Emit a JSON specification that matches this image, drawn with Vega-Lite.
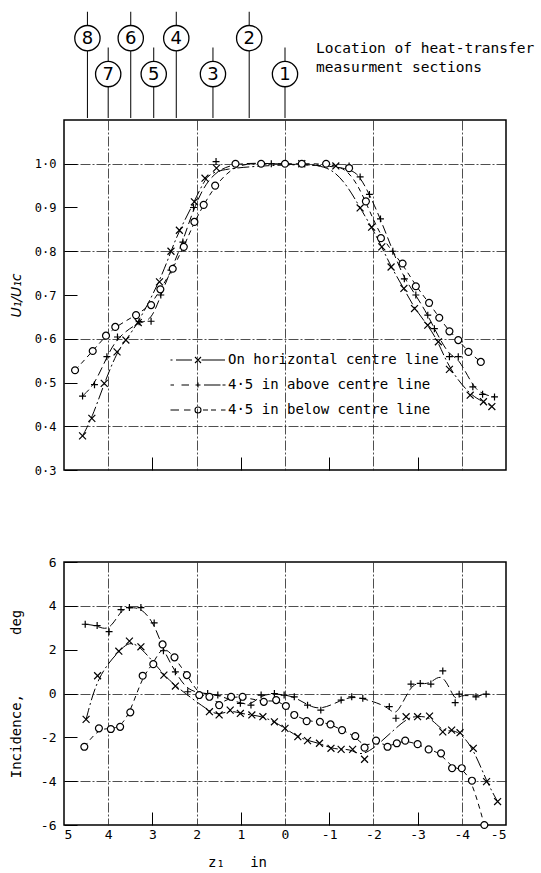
{
  "$schema": "https://vega.github.io/schema/vega-lite/v6.json",
  "background": "white",
  "padding": {"left": 8, "top": 0, "right": 0, "bottom": 0},
  "config": {
    "font": "DejaVu Sans Mono",
    "view": {"stroke": "black", "strokeWidth": 1.5},
    "axis": {
      "domain": false,
      "labelFont": "DejaVu Sans Mono",
      "labelColor": "black",
      "titleFont": "DejaVu Sans Mono",
      "titleColor": "black",
      "titleFontWeight": "normal",
      "tickColor": "black",
      "gridColor": "#222222",
      "gridWidth": 0.8,
      "gridDash": [10, 2, 2, 2]
    }
  },
  "datasets": {
    "sections": [
      {"section": "8", "z": 4.47, "tier": 2},
      {"section": "7", "z": 4.0, "tier": 1},
      {"section": "6", "z": 3.49, "tier": 2},
      {"section": "5", "z": 2.97, "tier": 1},
      {"section": "4", "z": 2.46, "tier": 2},
      {"section": "3", "z": 1.63, "tier": 1},
      {"section": "2", "z": 0.81, "tier": 2},
      {"section": "1", "z": 0.0, "tier": 1}
    ],
    "profiles": [
      {"series": "On horizontal centre line", "z": 4.58, "u": 0.378},
      {"series": "On horizontal centre line", "z": 4.37, "u": 0.418},
      {"series": "On horizontal centre line", "z": 4.09, "u": 0.498},
      {"series": "On horizontal centre line", "z": 3.8, "u": 0.57},
      {"series": "On horizontal centre line", "z": 3.6, "u": 0.597},
      {"series": "On horizontal centre line", "z": 3.32, "u": 0.637},
      {"series": "On horizontal centre line", "z": 2.84, "u": 0.73},
      {"series": "On horizontal centre line", "z": 2.58, "u": 0.8},
      {"series": "On horizontal centre line", "z": 2.39, "u": 0.848},
      {"series": "On horizontal centre line", "z": 2.05, "u": 0.913},
      {"series": "On horizontal centre line", "z": 1.81, "u": 0.967},
      {"series": "On horizontal centre line", "z": 1.55, "u": 0.99},
      {"series": "On horizontal centre line", "z": -0.38, "u": 1.0},
      {"series": "On horizontal centre line", "z": -1.15, "u": 0.995},
      {"series": "On horizontal centre line", "z": -1.7, "u": 0.899},
      {"series": "On horizontal centre line", "z": -1.96, "u": 0.855},
      {"series": "On horizontal centre line", "z": -2.19, "u": 0.81},
      {"series": "On horizontal centre line", "z": -2.4, "u": 0.764},
      {"series": "On horizontal centre line", "z": -2.69, "u": 0.715},
      {"series": "On horizontal centre line", "z": -2.93, "u": 0.669},
      {"series": "On horizontal centre line", "z": -3.23, "u": 0.631},
      {"series": "On horizontal centre line", "z": -3.47, "u": 0.593},
      {"series": "On horizontal centre line", "z": -3.72, "u": 0.53},
      {"series": "On horizontal centre line", "z": -4.19, "u": 0.471},
      {"series": "On horizontal centre line", "z": -4.49, "u": 0.456},
      {"series": "On horizontal centre line", "z": -4.68, "u": 0.445},
      {"series": "4·5 in above centre line", "z": 4.58, "u": 0.469},
      {"series": "4·5 in above centre line", "z": 4.31, "u": 0.495},
      {"series": "4·5 in above centre line", "z": 4.03, "u": 0.559},
      {"series": "4·5 in above centre line", "z": 3.79, "u": 0.604},
      {"series": "4·5 in above centre line", "z": 3.3, "u": 0.639},
      {"series": "4·5 in above centre line", "z": 3.03, "u": 0.64},
      {"series": "4·5 in above centre line", "z": 2.81, "u": 0.7},
      {"series": "4·5 in above centre line", "z": 2.58, "u": 0.757},
      {"series": "4·5 in above centre line", "z": 2.31, "u": 0.821},
      {"series": "4·5 in above centre line", "z": 2.07, "u": 0.9},
      {"series": "4·5 in above centre line", "z": 1.56, "u": 1.005},
      {"series": "4·5 in above centre line", "z": 0.31, "u": 1.0},
      {"series": "4·5 in above centre line", "z": -1.45, "u": 0.995},
      {"series": "4·5 in above centre line", "z": -1.7, "u": 0.97},
      {"series": "4·5 in above centre line", "z": -1.91, "u": 0.93},
      {"series": "4·5 in above centre line", "z": -2.16, "u": 0.874},
      {"series": "4·5 in above centre line", "z": -2.44, "u": 0.8},
      {"series": "4·5 in above centre line", "z": -2.7, "u": 0.737},
      {"series": "4·5 in above centre line", "z": -2.96, "u": 0.7},
      {"series": "4·5 in above centre line", "z": -3.23, "u": 0.654},
      {"series": "4·5 in above centre line", "z": -3.38, "u": 0.623},
      {"series": "4·5 in above centre line", "z": -3.72, "u": 0.559},
      {"series": "4·5 in above centre line", "z": -3.92, "u": 0.559},
      {"series": "4·5 in above centre line", "z": -4.25, "u": 0.49},
      {"series": "4·5 in above centre line", "z": -4.47, "u": 0.473},
      {"series": "4·5 in above centre line", "z": -4.74, "u": 0.467},
      {"series": "4·5 in below centre line", "z": 4.75, "u": 0.528},
      {"series": "4·5 in below centre line", "z": 4.35, "u": 0.572},
      {"series": "4·5 in below centre line", "z": 4.05, "u": 0.607},
      {"series": "4·5 in below centre line", "z": 3.84, "u": 0.627},
      {"series": "4·5 in below centre line", "z": 3.37, "u": 0.654},
      {"series": "4·5 in below centre line", "z": 3.03, "u": 0.677},
      {"series": "4·5 in below centre line", "z": 2.82, "u": 0.713},
      {"series": "4·5 in below centre line", "z": 2.54, "u": 0.76},
      {"series": "4·5 in below centre line", "z": 2.29, "u": 0.81},
      {"series": "4·5 in below centre line", "z": 2.05, "u": 0.867},
      {"series": "4·5 in below centre line", "z": 1.84, "u": 0.906},
      {"series": "4·5 in below centre line", "z": 1.58, "u": 0.95},
      {"series": "4·5 in below centre line", "z": 1.12, "u": 1.0},
      {"series": "4·5 in below centre line", "z": 0.54, "u": 1.0},
      {"series": "4·5 in below centre line", "z": 0.0, "u": 1.0},
      {"series": "4·5 in below centre line", "z": -0.38, "u": 1.0},
      {"series": "4·5 in below centre line", "z": -0.93, "u": 1.0},
      {"series": "4·5 in below centre line", "z": -1.45, "u": 0.99},
      {"series": "4·5 in below centre line", "z": -1.83, "u": 0.914},
      {"series": "4·5 in below centre line", "z": -2.17, "u": 0.83},
      {"series": "4·5 in below centre line", "z": -2.66, "u": 0.772},
      {"series": "4·5 in below centre line", "z": -2.96, "u": 0.72},
      {"series": "4·5 in below centre line", "z": -3.26, "u": 0.682},
      {"series": "4·5 in below centre line", "z": -3.49, "u": 0.648},
      {"series": "4·5 in below centre line", "z": -3.72, "u": 0.617},
      {"series": "4·5 in below centre line", "z": -3.92, "u": 0.597},
      {"series": "4·5 in below centre line", "z": -4.15, "u": 0.57},
      {"series": "4·5 in below centre line", "z": -4.43, "u": 0.547}
    ],
    "incidence": [
      {"series": "On horizontal centre line", "z": 4.5, "deg": -1.18},
      {"series": "On horizontal centre line", "z": 4.24, "deg": 0.81},
      {"series": "On horizontal centre line", "z": 3.76, "deg": 1.93},
      {"series": "On horizontal centre line", "z": 3.52, "deg": 2.39},
      {"series": "On horizontal centre line", "z": 3.26, "deg": 2.13},
      {"series": "On horizontal centre line", "z": 2.74, "deg": 0.84},
      {"series": "On horizontal centre line", "z": 2.48, "deg": 0.34},
      {"series": "On horizontal centre line", "z": 1.71, "deg": -0.83},
      {"series": "On horizontal centre line", "z": 1.49, "deg": -0.98},
      {"series": "On horizontal centre line", "z": 1.24, "deg": -0.76},
      {"series": "On horizontal centre line", "z": 1.01, "deg": -0.91},
      {"series": "On horizontal centre line", "z": 0.75, "deg": -0.98},
      {"series": "On horizontal centre line", "z": 0.5, "deg": -1.06},
      {"series": "On horizontal centre line", "z": 0.24, "deg": -1.29},
      {"series": "On horizontal centre line", "z": 0.0, "deg": -1.59},
      {"series": "On horizontal centre line", "z": -0.29, "deg": -1.97},
      {"series": "On horizontal centre line", "z": -0.51, "deg": -2.15},
      {"series": "On horizontal centre line", "z": -0.78, "deg": -2.27},
      {"series": "On horizontal centre line", "z": -1.04, "deg": -2.5},
      {"series": "On horizontal centre line", "z": -1.27, "deg": -2.55},
      {"series": "On horizontal centre line", "z": -1.53, "deg": -2.55},
      {"series": "On horizontal centre line", "z": -1.8, "deg": -3.0},
      {"series": "On horizontal centre line", "z": -2.74, "deg": -1.06},
      {"series": "On horizontal centre line", "z": -3.0, "deg": -1.06},
      {"series": "On horizontal centre line", "z": -3.27, "deg": -1.03},
      {"series": "On horizontal centre line", "z": -3.57, "deg": -1.75},
      {"series": "On horizontal centre line", "z": -3.77, "deg": -1.67},
      {"series": "On horizontal centre line", "z": -3.96, "deg": -1.79},
      {"series": "On horizontal centre line", "z": -4.26, "deg": -2.5},
      {"series": "On horizontal centre line", "z": -4.56, "deg": -4.02},
      {"series": "On horizontal centre line", "z": -4.81, "deg": -4.93},
      {"series": "4·5 in above centre line", "z": 4.52, "deg": 3.16},
      {"series": "4·5 in above centre line", "z": 4.25, "deg": 3.1},
      {"series": "4·5 in above centre line", "z": 3.98, "deg": 2.82},
      {"series": "4·5 in above centre line", "z": 3.71, "deg": 3.83},
      {"series": "4·5 in above centre line", "z": 3.52, "deg": 3.92},
      {"series": "4·5 in above centre line", "z": 3.26, "deg": 3.92},
      {"series": "4·5 in above centre line", "z": 2.96, "deg": 3.22},
      {"series": "4·5 in above centre line", "z": 2.75, "deg": 1.95},
      {"series": "4·5 in above centre line", "z": 2.48, "deg": 0.99},
      {"series": "4·5 in above centre line", "z": 2.2, "deg": 0.08},
      {"series": "4·5 in above centre line", "z": 1.75, "deg": 0.0},
      {"series": "4·5 in above centre line", "z": 1.52, "deg": -0.07},
      {"series": "4·5 in above centre line", "z": 1.01, "deg": -0.45},
      {"series": "4·5 in above centre line", "z": 0.77, "deg": -0.53},
      {"series": "4·5 in above centre line", "z": 0.54, "deg": -0.07},
      {"series": "4·5 in above centre line", "z": 0.24, "deg": 0.0},
      {"series": "4·5 in above centre line", "z": 0.02, "deg": -0.07},
      {"series": "4·5 in above centre line", "z": -0.21, "deg": -0.15},
      {"series": "4·5 in above centre line", "z": -0.51, "deg": -0.53},
      {"series": "4·5 in above centre line", "z": -0.81, "deg": -0.76},
      {"series": "4·5 in above centre line", "z": -1.27, "deg": -0.3},
      {"series": "4·5 in above centre line", "z": -1.51, "deg": -0.15},
      {"series": "4·5 in above centre line", "z": -1.76, "deg": -0.22},
      {"series": "4·5 in above centre line", "z": -2.36, "deg": -0.6},
      {"series": "4·5 in above centre line", "z": -2.51, "deg": -1.13},
      {"series": "4·5 in above centre line", "z": -2.85, "deg": 0.43},
      {"series": "4·5 in above centre line", "z": -3.06, "deg": 0.46},
      {"series": "4·5 in above centre line", "z": -3.3, "deg": 0.43},
      {"series": "4·5 in above centre line", "z": -3.57, "deg": 1.03},
      {"series": "4·5 in above centre line", "z": -3.85, "deg": -0.42},
      {"series": "4·5 in above centre line", "z": -3.94, "deg": -0.03},
      {"series": "4·5 in above centre line", "z": -4.32, "deg": -0.15},
      {"series": "4·5 in above centre line", "z": -4.55, "deg": -0.03},
      {"series": "4·5 in below centre line", "z": 4.54, "deg": -2.43},
      {"series": "4·5 in below centre line", "z": 4.21, "deg": -1.59},
      {"series": "4·5 in below centre line", "z": 3.94, "deg": -1.62},
      {"series": "4·5 in below centre line", "z": 3.73, "deg": -1.52},
      {"series": "4·5 in below centre line", "z": 3.5, "deg": -0.86},
      {"series": "4·5 in below centre line", "z": 3.22, "deg": 0.81},
      {"series": "4·5 in below centre line", "z": 2.98, "deg": 1.34},
      {"series": "4·5 in below centre line", "z": 2.77, "deg": 2.24},
      {"series": "4·5 in below centre line", "z": 2.5, "deg": 1.65},
      {"series": "4·5 in below centre line", "z": 2.22, "deg": 0.84},
      {"series": "4·5 in below centre line", "z": 1.94, "deg": -0.07},
      {"series": "4·5 in below centre line", "z": 1.71, "deg": -0.15},
      {"series": "4·5 in below centre line", "z": 1.49, "deg": -0.53},
      {"series": "4·5 in below centre line", "z": 1.22, "deg": -0.15},
      {"series": "4·5 in below centre line", "z": 0.96, "deg": -0.15},
      {"series": "4·5 in below centre line", "z": 0.48, "deg": -0.38},
      {"series": "4·5 in below centre line", "z": 0.2, "deg": -0.3},
      {"series": "4·5 in below centre line", "z": -0.02, "deg": -0.57},
      {"series": "4·5 in below centre line", "z": -0.21, "deg": -0.98},
      {"series": "4·5 in below centre line", "z": -0.49, "deg": -1.26},
      {"series": "4·5 in below centre line", "z": -0.79, "deg": -1.29},
      {"series": "4·5 in below centre line", "z": -1.03, "deg": -1.41},
      {"series": "4·5 in below centre line", "z": -1.29, "deg": -1.67},
      {"series": "4·5 in below centre line", "z": -1.59, "deg": -1.94},
      {"series": "4·5 in below centre line", "z": -1.8, "deg": -2.47},
      {"series": "4·5 in below centre line", "z": -2.06, "deg": -2.15},
      {"series": "4·5 in below centre line", "z": -2.32, "deg": -2.43},
      {"series": "4·5 in below centre line", "z": -2.53, "deg": -2.27},
      {"series": "4·5 in below centre line", "z": -2.72, "deg": -2.15},
      {"series": "4·5 in below centre line", "z": -3.0, "deg": -2.31},
      {"series": "4·5 in below centre line", "z": -3.25, "deg": -2.55},
      {"series": "4·5 in below centre line", "z": -3.53, "deg": -2.73},
      {"series": "4·5 in below centre line", "z": -3.78, "deg": -3.41},
      {"series": "4·5 in below centre line", "z": -4.0, "deg": -3.41},
      {"series": "4·5 in below centre line", "z": -4.23, "deg": -3.98},
      {"series": "4·5 in below centre line", "z": -4.51, "deg": -6.0}
    ]
  },
  "resolve": {"scale": {"shape": "independent", "strokeDash": "independent"}, "legend": {"shape": "independent", "strokeDash": "independent"}},
  "spacing": 78,
  "vconcat": [
    {
      "spacing": 0,
      "resolve": {"scale": {"shape": "independent", "strokeDash": "independent"}, "legend": {"shape": "independent", "strokeDash": "independent"}},
      "vconcat": [
        {
          "width": 442,
          "height": 118,
          "view": {"stroke": null},
          "title": {
            "text": ["Location of heat-transfer", "measurment sections"],
            "orient": "top", "frame": "group", "anchor": "start", "align": "left",
            "baseline": "top", "offset": 0, "dx": 252, "dy": 75,
            "font": "DejaVu Sans Mono", "fontSize": 14.5, "fontWeight": "normal",
            "lineHeight": 19, "color": "black"
          },
          "data": {"name": "sections"},
          "encoding": {
            "x": {"field": "z", "type": "quantitative", "scale": {"domain": [-5, 5], "reverse": true, "nice": false}, "axis": null},
            "y": {
              "field": "tier", "type": "quantitative",
              "scale": {"domain": [-0.22, 3.06], "nice": false, "zero": false},
              "axis": {"title": "\u00a0", "labels": false, "ticks": false, "grid": false, "domain": false, "minExtent": 30, "maxExtent": 30, "titlePadding": 11, "titleFontSize": 14}
            }
          },
          "layer": [
            {"mark": {"type": "rule", "color": "black", "strokeWidth": 1}, "encoding": {"y2": {"value": "height"}}},
            {"mark": {"type": "tick", "orient": "vertical", "size": 14, "thickness": 1, "yOffset": -19.5, "color": "black", "opacity": 1}},
            {"mark": {"type": "point", "shape": "circle", "size": 640, "filled": true, "fill": "white", "stroke": "black", "strokeWidth": 1.3, "opacity": 1}},
            {"mark": {"type": "text", "font": "DejaVu Sans", "fontSize": 18, "color": "black", "baseline": "middle", "align": "center", "dy": 1}, "encoding": {"text": {"field": "section"}}}
          ]
        },
        {
          "width": 442,
          "height": 350,
          "data": {"name": "profiles"},
          "resolve": {"scale": {"shape": "independent"}, "legend": {"shape": "independent"}},
          "encoding": {
            "x": {
              "field": "z", "type": "quantitative",
              "scale": {"domain": [-5, 5], "reverse": true, "nice": false},
              "axis": {
                "values": [5, 4, 3, 2, 1, 0, -1, -2, -3, -4, -5],
                "labels": false, "title": null, "tickSize": -13,
                "tickOpacity": {"condition": {"test": "abs(datum.value) % 2 == 1 && abs(datum.value) < 5", "value": 1}, "value": 0},
                "grid": true,
                "gridOpacity": {"condition": {"test": "abs(datum.value) % 2 == 0", "value": 1}, "value": 0}
              }
            },
            "y": {
              "field": "u", "type": "quantitative",
              "scale": {"domain": [0.3, 1.1], "nice": false, "zero": false},
              "axis": {
                "values": [0.3, 0.4, 0.5, 0.6, 0.7, 0.8, 0.9, 1.0],
                "labelExpr": "replace(format(datum.value, '.1f'), '.', '·')",
                "labelFontSize": 12, "labelPadding": 21, "tickSize": -13,
                "grid": true,
                "gridOpacity": {"condition": {"test": "round(datum.value * 10) % 2 == 0", "value": 1}, "value": 0},
                "title": "U₁/U₁c", "titleFont": "DejaVu Sans", "titleFontStyle": "italic", "titleFontSize": 14,
                "minExtent": 30, "maxExtent": 30, "titlePadding": 11
              }
            }
          },
          "layer": [
            {
              "mark": {"type": "line", "interpolate": "basis", "color": "black", "strokeWidth": 1},
              "encoding": {
                "strokeDash": {
                  "field": "series", "type": "nominal",
                  "scale": {"domain": ["On horizontal centre line", "4·5 in above centre line", "4·5 in below centre line"], "range": [[12, 3, 2, 3], [9, 4], [5, 4]]},
                  "legend": null
                }
              }
            },
            {
              "mark": {"type": "point", "filled": false, "fill": "white", "stroke": "black", "strokeWidth": 1.2, "size": 48, "opacity": 1},
              "encoding": {
                "shape": {
                  "field": "series", "type": "nominal",
                  "scale": {"domain": ["On horizontal centre line", "4·5 in above centre line", "4·5 in below centre line"], "range": ["M-1,-1L1,1M-1,1L1,-1", "M-1,0H1M0,-1V1", "circle"]},
                  "legend": null
                }
              }
            },
            {
              "transform": [{"filter": "false"}],
              "mark": {"type": "point", "filled": false, "color": "black", "strokeWidth": 1.1, "opacity": 1},
              "encoding": {
                "shape": {
                  "field": "series", "type": "nominal",
                  "scale": {
                    "domain": ["On horizontal centre line", "4·5 in above centre line", "4·5 in below centre line"],
                    "range": [
                      "M-5.5,0H-5.1M-4.4,0H-1.2M-0.6,-0.6L0.6,0.6M-0.6,0.6L0.6,-0.6M0.7,0H5.4",
                      "M-5.5,0H-4.8M-3.3,0H-1.8M-0.5,0H0.5M0,-0.5V0.5M1.2,0H4.5M4.9,0H5.5",
                      "M-5.5,0H-3.8M-2.8,0H-1.5M0.6,0A0.6,0.6,0,1,1,-0.6,0A0.6,0.6,0,1,1,0.6,0M1,0H2M2.6,0H3.6M4.6,0H5.5"
                    ]
                  },
                  "legend": {
                    "orient": "none", "legendX": 127, "legendY": 233, "title": null,
                    "padding": 0, "symbolSize": 100, "labelOffset": 23, "rowPadding": 11,
                    "symbolStrokeColor": "black", "symbolStrokeWidth": 1.1, "symbolFillColor": "white",
                    "labelFont": "DejaVu Sans Mono", "labelFontSize": 14, "labelColor": "black", "labelLimit": 400
                  }
                }
              }
            }
          ]
        }
      ]
    },
    {
      "width": 442,
      "height": 263,
      "data": {"name": "incidence"},
      "encoding": {
        "x": {
          "field": "z", "type": "quantitative",
          "scale": {"domain": [-5, 5], "reverse": true, "nice": false},
          "axis": {
            "values": [5, 4, 3, 2, 1, 0, -1, -2, -3, -4, -5],
            "labelExpr": "datum.value < 0 ? '-' + abs(datum.value) : '' + datum.value",
            "labelFontSize": 13, "labelPadding": 16, "tickSize": -13,
            "tickOpacity": {"condition": {"test": "abs(datum.value) % 2 == 1 && abs(datum.value) < 5", "value": 1}, "value": 0},
            "grid": true,
            "gridOpacity": {"condition": {"test": "abs(datum.value) % 2 == 0", "value": 1}, "value": 0},
            "title": "z₁\u00a0\u00a0\u00a0in", "titleFontSize": 14, "titleX": 173, "titleAlign": "center", "titlePadding": 14
          }
        },
        "y": {
          "field": "deg", "type": "quantitative",
          "scale": {"domain": [-6, 6], "nice": false, "zero": false},
          "axis": {
            "values": [-6, -4, -2, 0, 2, 4, 6],
            "labelExpr": "datum.value < 0 ? '-' + abs(datum.value) : '' + datum.value",
            "labelFontSize": 13, "labelPadding": 21, "tickSize": -13,
            "grid": true,
            "gridOpacity": {"condition": {"test": "abs(datum.value) % 4 == 0", "value": 1}, "value": 0},
            "title": "Incidence,\u00a0\u00a0\u00a0\u00a0\u00a0\u00a0\u00a0deg", "titleFontSize": 14,
            "minExtent": 30, "maxExtent": 30, "titlePadding": 11
          }
        }
      },
      "layer": [
        {
          "mark": {"type": "line", "interpolate": "basis", "color": "black", "strokeWidth": 1},
          "encoding": {
            "strokeDash": {
              "field": "series", "type": "nominal",
              "scale": {"domain": ["On horizontal centre line", "4·5 in above centre line", "4·5 in below centre line"], "range": [[12, 3, 2, 3], [9, 4], [5, 4]]},
              "legend": null
            }
          }
        },
        {
          "mark": {"type": "point", "filled": false, "fill": "white", "stroke": "black", "strokeWidth": 1.2, "size": 48, "opacity": 1},
          "encoding": {
            "shape": {
              "field": "series", "type": "nominal",
              "scale": {"domain": ["On horizontal centre line", "4·5 in above centre line", "4·5 in below centre line"], "range": ["M-1,-1L1,1M-1,1L1,-1", "M-1,0H1M0,-1V1", "circle"]},
              "legend": null
            }
          }
        }
      ]
    }
  ]
}
